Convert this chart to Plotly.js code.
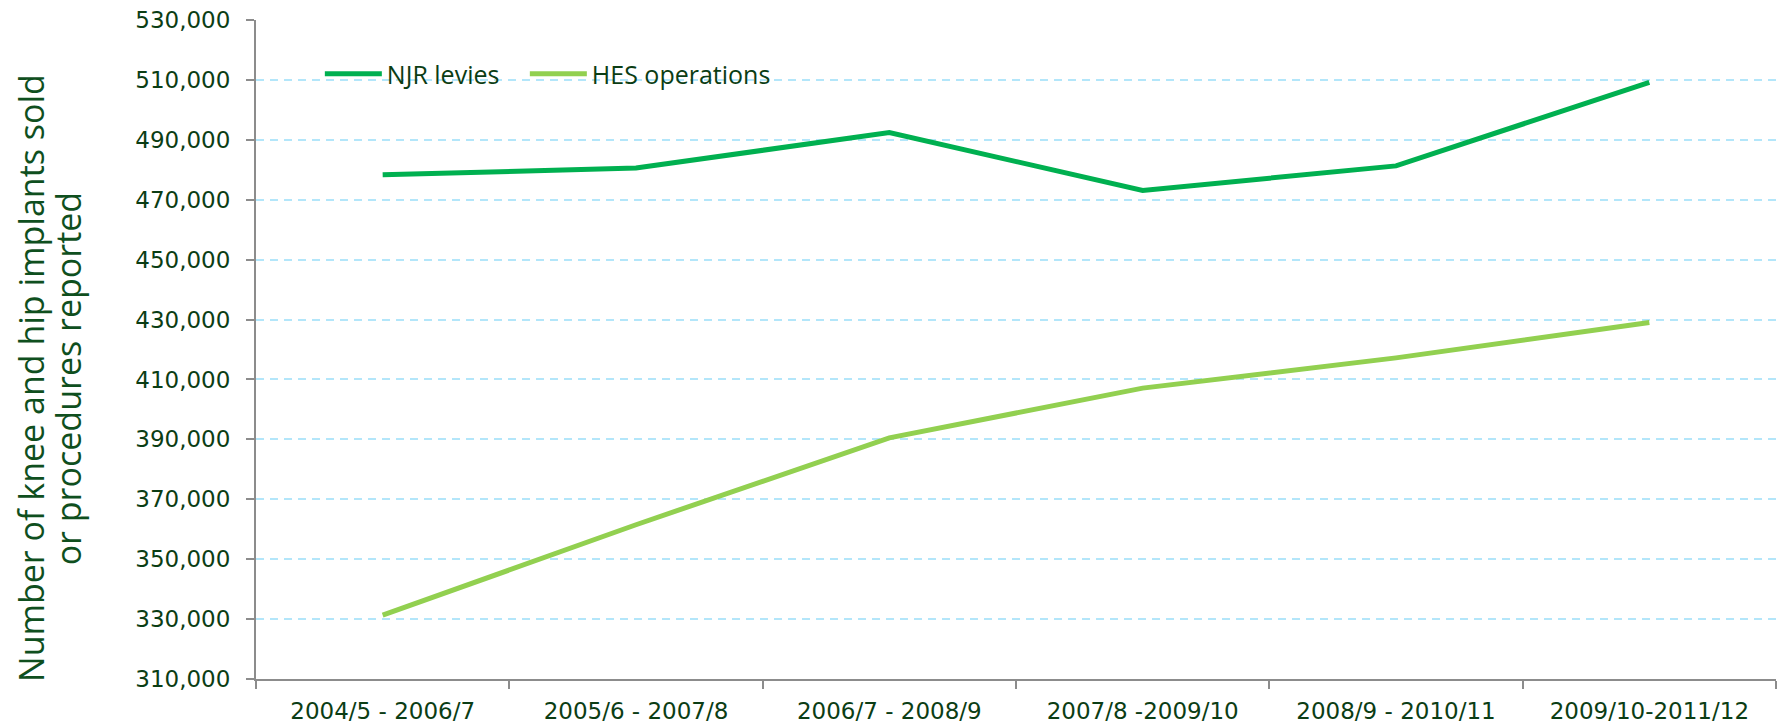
<!DOCTYPE html>
<html>
<head>
<meta charset="utf-8">
<script src="https://cdn.plot.ly/plotly-3.0.1.min.js"></script>
<style>html,body{margin:0;padding:0;background:#fff;}#chart{width:1785px;height:725px;}</style>
</head>
<body>
<div id="chart"></div>
<script>
var categories = ["2004/5 - 2006/7", "2005/6 - 2007/8", "2006/7 - 2008/9", "2007/8 -2009/10", "2008/9 - 2010/11", "2009/10-2011/12"];
var njrLevies = [478300, 480600, 492400, 473100, 481300, 509200];
var hesOperations = [331300, 361500, 390500, 407100, 417200, 429000];
var yTickValues = [310000, 330000, 350000, 370000, 390000, 410000, 430000, 450000, 470000, 490000, 510000, 530000];
var seriesNames = ["NJR levies", "HES operations"];
var yTitleLines = ["Number of knee and hip implants sold", "or procedures reported"];

var traces = [
  {x: categories, y: njrLevies, name: seriesNames[0], type: "scatter", mode: "lines",
   line: {color: "#00b050", width: 5}, legendwidth: 133},
  {x: categories, y: hesOperations, name: seriesNames[1], type: "scatter", mode: "lines",
   line: {color: "#92d050", width: 5}, legendwidth: 200}
];

var titleFont = {family: "Open Sans, sans-serif", size: 34, color: "#0f4f1e"};

var layout = {
  width: 1785, height: 725,
  margin: {l: 256, r: 9, t: 20, b: 46},
  paper_bgcolor: "#ffffff", plot_bgcolor: "#ffffff",
  showlegend: true,
  legend: {orientation: "h", x: 0.042, y: 0.918, xanchor: "left", yanchor: "middle",
           bgcolor: "rgba(0,0,0,0)", font: {family: "Open Sans, sans-serif", size: 25, color: "#0b3d14"},
           itemwidth: 57},
  xaxis: {type: "category", range: [-0.5, 5.5], tickson: "boundaries",
          ticks: "outside", ticklen: 8, tickwidth: 2, tickcolor: "#8c8c8c",
          showline: true, linecolor: "#8c8c8c", linewidth: 2, showgrid: false,
          ticklabelstandoff: 10,
          tickfont: {family: "DejaVu Sans, sans-serif", size: 23, color: "#0b3d14"}},
  yaxis: {range: [310000, 530000], tickvals: yTickValues, tickformat: ",d",
          ticks: "outside", ticklen: 8, tickwidth: 2, tickcolor: "#8c8c8c",
          showline: true, linecolor: "#8c8c8c", linewidth: 2, zeroline: false,
          showgrid: true, gridcolor: "#b3e6fa", gridwidth: 2, griddash: "8px,6px",
          ticklabelstandoff: 11,
          tickfont: {family: "DejaVu Sans, sans-serif", size: 23, color: "#0b3d14"}},
  annotations: [
    {text: yTitleLines[0], textangle: -90, showarrow: false,
     xref: "paper", yref: "paper", x: -0.1482, y: 0.4564, xanchor: "center", yanchor: "middle",
     font: titleFont},
    {text: yTitleLines[1], textangle: -90, showarrow: false,
     xref: "paper", yref: "paper", x: -0.1236, y: 0.4564, xanchor: "center", yanchor: "middle",
     font: titleFont}
  ]
};

Plotly.newPlot("chart", traces, layout, {displayModeBar: false, responsive: false});
</script>
</body>
</html>
